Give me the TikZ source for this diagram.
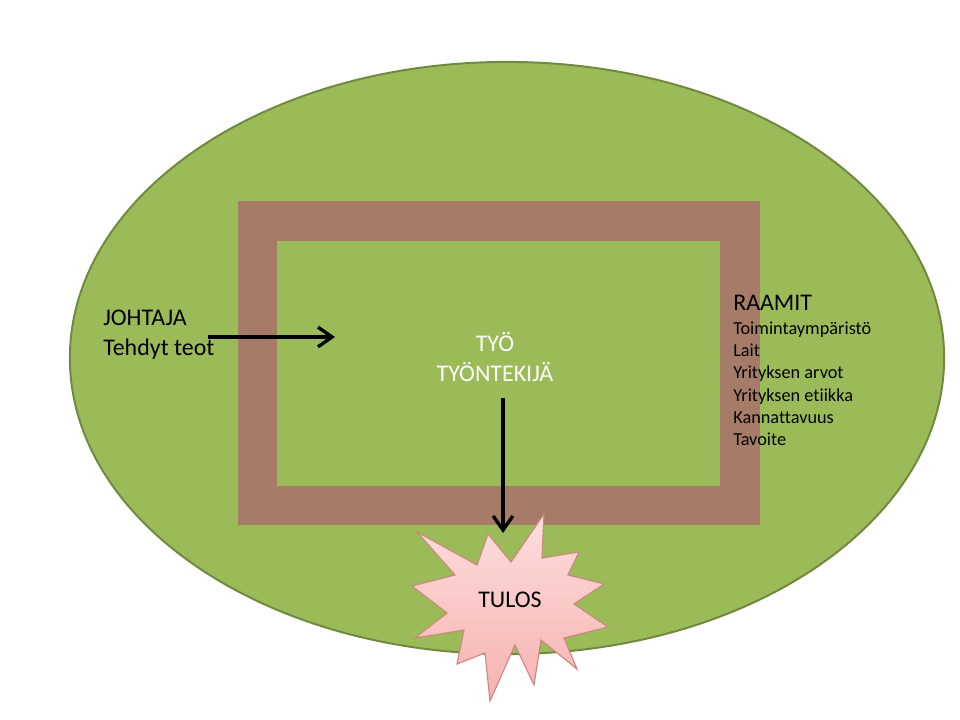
\documentclass[tikz,border=0pt]{standalone}
\usepackage{fontspec}
\setmainfont[Ligatures=NoCommon]{Carlito}
\usetikzlibrary{arrows.meta}
\definecolor{ruoho}{HTML}{9BBB59}
\definecolor{ruohoreuna}{HTML}{71893F}
\definecolor{ruskea}{RGB}{166,124,104}
\definecolor{tahtireuna}{RGB}{205,135,125}
\definecolor{tahtiyla}{RGB}{253,222,221}
\definecolor{tahtiala}{RGB}{245,178,176}
\begin{document}
\begin{tikzpicture}[x=0.025cm,y=-0.025cm,
        nuoli/.style={-{Straight Barb[length=10pt,width=14pt]},line width=2.4pt,black},
        iso/.style={font=\fontsize{17}{21.5}\selectfont},
        pieni/.style={font=\fontsize{13}{15.9}\selectfont}]

                \useasboundingbox (0,0) rectangle (960,720);
                \fill[ruoho,draw=ruohoreuna,line width=1.4pt] (507,358) ellipse (10.925cm and 7.4cm);
                \fill[ruskea] (238,201) rectangle (760,525);
                \fill[ruoho] (277,241) rectangle (720,486);
                \draw[tahtireuna,line width=0.8pt,top color=tahtiyla,bottom color=tahtiala]
                    (417,532) -- (477,565) -- (488,534) -- (511,562) -- (544,514) -- (542,558)
                    -- (579,552) -- (568,575) -- (604,584) -- (574,604) -- (608,627) -- (564,638)
                    -- (577,669) -- (541,640) -- (534,685) -- (515,645) -- (490,701) -- (485,653)
                    -- (457,664) -- (464,630) -- (415,638) -- (447,613) -- (412,586) -- (455,575)
                    -- cycle;

                \node (johtaja) at (103,356) [iso,anchor=base west,align=left,inner sep=0] {JOHTAJA\\Tehdyt teot};
                \node (raamit) at (733,311) [iso,anchor=base west,inner sep=0] {RAAMIT};
                \node (lista) at (733,446) [pieni,anchor=base west,align=left,inner sep=0]
                    {Toimintaympäristö\\Lait\\Yrityksen arvot\\Yrityksen etiikka\\Kannattavuus\\Tavoite};
                \node (tyo) at (495,382) [iso,anchor=base,align=center,text=white,inner sep=0] {TYÖ\\TYÖNTEKIJÄ};
                \node (tulos) at (510,607) [iso,anchor=base,inner sep=0] {TULOS};

                \coordinate (johtajaalku) at (208,337);
                \coordinate (johtajaloppu) at (335,337);
                \coordinate (tyoalku) at (503,398);
                \coordinate (tulosyla) at (503,533);
                \draw[nuoli] (johtajaalku) -- (johtajaloppu);
                \draw[nuoli] (tyoalku) -- (tulosyla);
\end{tikzpicture}
\end{document}
